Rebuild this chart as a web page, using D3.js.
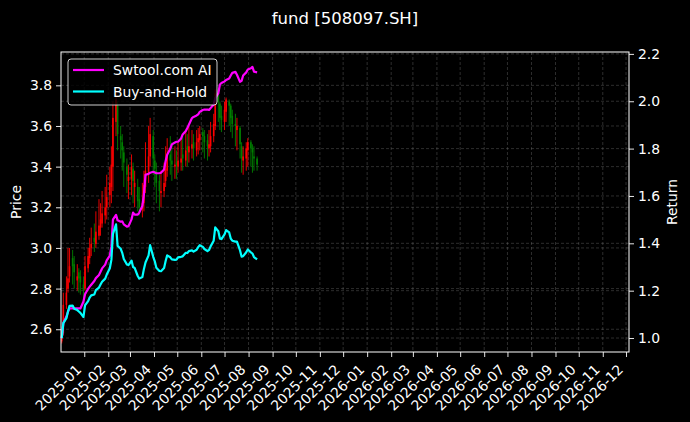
<!DOCTYPE html>
<html><head><meta charset="utf-8">
<script src="https://cdn.jsdelivr.net/npm/d3@7"></script>
<style>body{margin:0;background:#000}svg{display:block}</style>
</head><body>
<svg id="chart" width="690" height="422"></svg>
<script>
const dates = [
"2024-12-03","2024-12-05","2024-12-09","2024-12-11","2024-12-13",
"2024-12-17","2024-12-19","2024-12-23","2024-12-25","2024-12-27",
"2024-12-31","2025-01-02","2025-01-06","2025-01-08","2025-01-10",
"2025-01-14","2025-01-16","2025-01-20","2025-01-22","2025-01-24",
"2025-01-28","2025-01-30","2025-02-03","2025-02-05","2025-02-07",
"2025-02-11","2025-02-13","2025-02-17","2025-02-19","2025-02-21",
"2025-02-25","2025-02-27","2025-03-03","2025-03-05","2025-03-07",
"2025-03-11","2025-03-13","2025-03-17","2025-03-19","2025-03-21",
"2025-03-25","2025-03-27","2025-03-31","2025-04-02","2025-04-04",
"2025-04-08","2025-04-10","2025-04-14","2025-04-16","2025-04-18",
"2025-04-22","2025-04-24","2025-04-28","2025-04-30","2025-05-02",
"2025-05-06","2025-05-08","2025-05-12","2025-05-14","2025-05-16",
"2025-05-20","2025-05-22","2025-05-26","2025-05-28","2025-05-30",
"2025-06-03","2025-06-05","2025-06-09","2025-06-11","2025-06-13",
"2025-06-17","2025-06-19","2025-06-23","2025-06-25","2025-06-27",
"2025-07-01","2025-07-03","2025-07-07","2025-07-09","2025-07-11",
"2025-07-15","2025-07-17","2025-07-21","2025-07-23","2025-07-25",
"2025-07-29","2025-07-31","2025-08-04","2025-08-06","2025-08-08",
"2025-08-12"];

const open = [2.54,2.58,2.72,2.80,2.86,2.95,2.92,2.84,2.88,2.86,
2.82,2.80,2.90,2.95,3.00,3.05,3.02,3.06,3.10,3.12,
3.16,3.20,3.26,3.30,3.40,3.62,3.70,3.55,3.52,3.47,
3.40,3.33,3.34,3.39,3.30,3.30,3.24,3.19,3.22,3.30,
3.37,3.45,3.55,3.43,3.38,3.33,3.27,3.28,3.33,3.38,
3.46,3.43,3.40,3.42,3.40,3.42,3.46,3.43,3.50,3.47,
3.49,3.52,3.48,3.52,3.53,3.57,3.55,3.53,3.49,3.50,
3.55,3.60,3.76,3.71,3.65,3.62,3.67,3.72,3.70,3.65,
3.61,3.58,3.59,3.50,3.43,3.44,3.48,3.52,3.49,3.45,
3.44];
const high = [2.60,2.78,2.86,3.00,3.00,2.99,2.96,2.92,2.90,2.89,
2.86,2.96,3.00,3.05,3.10,3.12,3.18,3.24,3.22,3.28,
3.30,3.36,3.40,3.50,3.72,3.77,3.72,3.60,3.56,3.50,
3.44,3.41,3.46,3.42,3.38,3.34,3.30,3.32,3.38,3.52,
3.60,3.64,3.58,3.46,3.42,3.36,3.38,3.42,3.50,3.54,
3.55,3.52,3.50,3.48,3.52,3.54,3.55,3.58,3.56,3.60,
3.58,3.56,3.58,3.59,3.60,3.59,3.58,3.56,3.58,3.62,
3.66,3.78,3.77,3.72,3.70,3.72,3.74,3.73,3.71,3.68,
3.66,3.64,3.60,3.52,3.50,3.52,3.54,3.53,3.51,3.50,
3.45];
const low = [2.53,2.57,2.70,2.78,2.83,2.82,2.80,2.79,2.78,2.77,
2.74,2.79,2.88,2.92,2.96,2.98,3.00,3.04,3.06,3.10,
3.12,3.14,3.20,3.22,3.28,3.55,3.48,3.44,3.38,3.30,
3.27,3.24,3.26,3.22,3.20,3.18,3.16,3.15,3.18,3.27,
3.32,3.40,3.36,3.30,3.22,3.18,3.20,3.25,3.30,3.35,
3.36,3.33,3.34,3.34,3.37,3.38,3.38,3.40,3.40,3.42,
3.44,3.43,3.45,3.46,3.48,3.47,3.44,3.43,3.45,3.47,
3.52,3.58,3.62,3.58,3.57,3.58,3.62,3.60,3.57,3.54,
3.50,3.48,3.44,3.37,3.36,3.38,3.40,3.40,3.37,3.38,
3.38];
const close = [2.56,2.72,2.78,2.85,2.91,2.91,2.88,2.86,2.85,2.83,
2.79,2.91,2.96,3.00,3.02,3.03,3.08,3.11,3.14,3.17,
3.20,3.25,3.32,3.41,3.64,3.73,3.56,3.53,3.48,3.42,
3.36,3.35,3.40,3.33,3.32,3.23,3.20,3.22,3.31,3.38,
3.45,3.56,3.44,3.39,3.32,3.28,3.28,3.32,3.39,3.45,
3.43,3.41,3.41,3.41,3.43,3.44,3.44,3.48,3.48,3.50,
3.51,3.49,3.52,3.54,3.56,3.55,3.52,3.50,3.51,3.55,
3.61,3.76,3.72,3.64,3.63,3.68,3.73,3.70,3.64,3.61,
3.60,3.60,3.51,3.44,3.45,3.49,3.52,3.49,3.47,3.44,
3.41];

const swtool = [1.000,1.063,1.091,1.111,1.125,1.125,1.125,1.125,1.125,1.125,
1.154,1.185,1.208,1.217,1.225,1.241,1.253,1.266,1.280,1.294,
1.310,1.328,1.348,1.386,1.500,1.520,1.497,1.491,1.493,1.480,
1.470,1.472,1.501,1.530,1.521,1.521,1.530,1.558,1.608,1.689,
1.694,1.698,1.702,1.699,1.696,1.696,1.698,1.712,1.748,1.774,
1.799,1.818,1.826,1.829,1.829,1.843,1.860,1.874,1.887,1.901,
1.929,1.934,1.940,1.945,1.955,1.963,1.965,1.965,1.963,1.971,
1.986,2.012,2.034,2.071,2.077,2.084,2.090,2.096,2.109,2.120,
2.124,2.112,2.082,2.086,2.109,2.122,2.134,2.139,2.145,2.125,
2.122];
const buyHold = [1.000,1.063,1.084,1.112,1.136,1.137,1.124,1.118,1.112,1.106,
1.089,1.138,1.156,1.171,1.180,1.184,1.202,1.213,1.226,1.238,
1.251,1.268,1.295,1.330,1.440,1.480,1.389,1.377,1.360,1.334,
1.311,1.308,1.327,1.300,1.296,1.262,1.251,1.258,1.292,1.319,
1.349,1.392,1.343,1.324,1.297,1.283,1.282,1.296,1.325,1.349,
1.341,1.332,1.330,1.331,1.341,1.343,1.345,1.360,1.359,1.367,
1.370,1.365,1.373,1.384,1.392,1.385,1.376,1.367,1.372,1.387,
1.411,1.467,1.451,1.420,1.418,1.438,1.456,1.446,1.420,1.411,
1.407,1.407,1.370,1.344,1.346,1.362,1.374,1.362,1.357,1.342,
1.332];

const priceTicks = [2.6, 2.8, 3.0, 3.2, 3.4, 3.6, 3.8];
const returnTicks = [1.0, 1.2, 1.4, 1.6, 1.8, 2.0, 2.2];
const seriesNames = ["Swtool.com AI", "Buy-and-Hold"];
const seriesColors = ["#ff00ff", "#00ffff"];
const titleText = "fund [508097.SH]";

const FONT = "DejaVu Sans, Liberation Sans, sans-serif";
const FS = "13.9px";
const svg = d3.select("#chart");
svg.append("rect").attr("width", 690).attr("height", 422).attr("fill", "#000");

const L = 61, R = 629, T = 52, B = 352;
const parse = d3.utcParse("%Y-%m-%d");
const dts = dates.map(parse);

const x = d3.scaleUtc().domain([Date.UTC(2024, 11, 2), Date.UTC(2026, 11, 4, 20)]).range([L, R]);
const yP = d3.scaleLinear().domain([2.488, 3.964]).range([B, T]);
const yR = d3.scaleLinear().domain([0.941, 2.208]).range([B, T]);
const monthTicks = d3.utcMonth.range(Date.UTC(2025, 0, 1), Date.UTC(2026, 11, 2));

// grid
const grid = svg.append("g").attr("stroke", "#8a8a8a").attr("stroke-opacity", 0.55)
  .attr("stroke-width", 0.6).attr("stroke-dasharray", "3,2");
monthTicks.forEach(d => grid.append("line").attr("x1", x(d)).attr("x2", x(d)).attr("y1", T).attr("y2", B));
priceTicks.forEach(v => grid.append("line").attr("x1", L).attr("x2", R).attr("y1", yP(v)).attr("y2", yP(v)));
returnTicks.forEach(v => grid.append("line").attr("x1", L).attr("x2", R).attr("y1", yR(v)).attr("y2", yR(v)));

// candles
const candles = svg.append("g");
dts.forEach((d, i) => {
  const up = close[i] >= open[i];
  const col = up ? "#ff0000" : "#008000";
  const cx = x(d);
  candles.append("line").attr("x1", cx).attr("x2", cx)
    .attr("y1", yP(high[i])).attr("y2", yP(low[i]))
    .attr("stroke", col).attr("stroke-width", 0.9);
  const y1 = yP(Math.max(open[i], close[i])), y2 = yP(Math.min(open[i], close[i]));
  candles.append("rect").attr("x", cx - 0.8).attr("width", 1.6)
    .attr("y", y1).attr("height", Math.max(0.8, y2 - y1)).attr("fill", col);
});

// lines
const lineGen = d3.line().x((d, i) => x(dts[i])).y(d => yR(d));
[swtool, buyHold].forEach((s, k) => {
  svg.append("path").datum(s).attr("d", lineGen).attr("fill", "none")
    .attr("stroke", seriesColors[k]).attr("stroke-width", 2.2).attr("stroke-linejoin", "round");
});

// frame
svg.append("rect").attr("x", L).attr("y", T).attr("width", R - L).attr("height", B - T)
  .attr("fill", "none").attr("stroke", "#fff").attr("stroke-width", 1);

function styleAxis(g) {
  g.select(".domain").remove();
  g.selectAll(".tick line").attr("stroke", "#fff").attr("stroke-width", 0.9);
  g.selectAll(".tick text").attr("fill", "#fff").attr("font-family", FONT).attr("font-size", FS);
}

svg.append("g").attr("transform", `translate(${L},0)`)
  .call(d3.axisLeft(yP).tickValues(priceTicks).tickFormat(d3.format(".1f")).tickSize(5).tickPadding(4))
  .call(styleAxis);
svg.append("g").attr("transform", `translate(${R},0)`)
  .call(d3.axisRight(yR).tickValues(returnTicks).tickFormat(d3.format(".1f")).tickSize(5).tickPadding(4))
  .call(styleAxis);
const xg = svg.append("g").attr("transform", `translate(0,${B})`)
  .call(d3.axisBottom(x).tickValues(monthTicks).tickFormat(d3.utcFormat("%Y-%m")).tickSize(5))
  .call(styleAxis);
xg.selectAll(".tick text")
  .attr("text-anchor", "end").attr("dy", null).attr("y", null)
  .attr("transform", "translate(-2.5,18.5) rotate(-45)");

// labels
svg.append("text").attr("x", 345).attr("y", 24).attr("text-anchor", "middle")
  .attr("fill", "#fff").attr("font-family", FONT).attr("font-size", "16.5px").text(titleText);
svg.append("text").attr("transform", "translate(21,202) rotate(-90)").attr("text-anchor", "middle")
  .attr("fill", "#fff").attr("font-family", FONT).attr("font-size", FS).text("Price");
svg.append("text").attr("transform", "translate(677,202) rotate(-90)").attr("text-anchor", "middle")
  .attr("fill", "#fff").attr("font-family", FONT).attr("font-size", FS).text("Return");

// legend
const lg = svg.append("g");
lg.append("rect").attr("x", 68).attr("y", 59).attr("width", 149).attr("height", 46).attr("rx", 3)
  .attr("fill", "#000").attr("fill-opacity", 0.8).attr("stroke", "#fff").attr("stroke-opacity", 0.8);
seriesNames.forEach((n, k) => {
  const yy = 70 + k * 21.5;
  lg.append("line").attr("x1", 73).attr("x2", 104).attr("y1", yy).attr("y2", yy)
    .attr("stroke", seriesColors[k]).attr("stroke-width", 2.2);
  lg.append("text").attr("x", 113).attr("y", yy + 5).attr("fill", "#fff")
    .attr("font-family", FONT).attr("font-size", FS).text(n);
});
</script>
</body></html>
